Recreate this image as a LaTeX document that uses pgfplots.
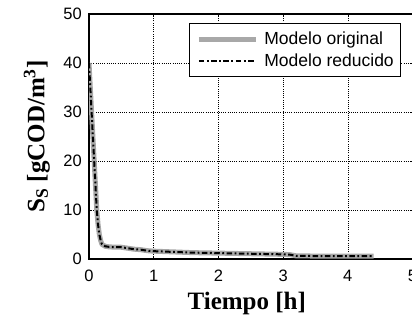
\documentclass[border=0pt]{standalone}
\usepackage{fontspec}
\setmainfont{Liberation Sans}
\newfontfamily\serifb{Liberation Serif}
\usepackage{pgfplots}
\pgfplotsset{compat=1.18}
\definecolor{origgray}{RGB}{168,168,168}
\begin{document}
\begin{tikzpicture}
\begin{axis}[
  scale only axis, width=323.5bp, height=245bp,
  xmin=0, xmax=5, ymin=0, ymax=50,
  xtick={0,1,2,3,4,5}, ytick={0,10,20,30,40,50},
  grid=major,
  major grid style={black, line width=0.6bp, dash pattern=on 1bp off 1.2bp},
  axis line style={black, line width=1.4bp},
  tick align=inside, major tick length=3bp, tick style={black, line width=0.6bp},
  /pgf/number format/assume math mode=true,
  tick label style={font=\fontsize{16.5bp}{19bp}\selectfont},
  xticklabel style={anchor=north, inner sep=0pt, yshift=-11bp},
  yticklabel style={anchor=east, inner sep=0pt, xshift=-7bp},
  xlabel={\serifb\bfseries Tiempo [h]},
  xlabel style={at={(rel axis cs:0.4876,-0.1347)}, anchor=north, inner sep=0pt, font=\fontsize{25bp}{28bp}\selectfont},
  ylabel={\serifb\bfseries S\textsubscript{S} [gCOD/m\textsuperscript{3}]},
  ylabel style={at={(rel axis cs:-0.1206,0.5)}, anchor=south, inner sep=0pt, font=\fontsize{25bp}{28bp}\selectfont},
  legend style={at={(rel axis cs:0.309,0.963)}, anchor=north west, draw=black, line width=0.8bp, fill=white,
    inner xsep=7bp, inner ysep=8.5bp, row sep=8bp, column sep=6bp,
    font=\fontsize{17.5bp}{20bp}\selectfont, nodes={inner sep=0pt}},
  legend cell align=left,
  legend image code/.code={\draw[#1] (0bp,0bp) -- (57bp,0bp);},
]
\addplot[origgray, line width=5bp, line join=round] coordinates {
(0,40) (0.02,35) (0.04,30) (0.06,25) (0.08,20) (0.1,15) (0.12,10) (0.14,7) (0.16,5) (0.18,3.8) (0.2,3.0)
(0.25,2.6) (0.3,2.5) (0.4,2.4) (0.5,2.4) (0.6,2.2) (0.7,2.0) (0.8,1.9) (0.9,1.7) (1.0,1.6)
(1.2,1.5) (1.4,1.4) (1.6,1.3) (1.8,1.25) (2.0,1.2) (2.2,1.15) (2.4,1.1) (2.6,1.05) (2.8,1.0) (3.0,0.95)
(3.1,0.9) (3.2,0.65) (3.5,0.6) (3.8,0.6) (4.1,0.6) (4.4,0.6)
};
\addlegendentry{Modelo original}
\addplot[black, line width=2bp, dash pattern=on 5.5bp off 2.5bp on 1.8bp off 2.5bp] coordinates {
(0,40) (0.02,35) (0.04,30) (0.06,25) (0.08,20) (0.1,15) (0.12,10) (0.14,7) (0.16,5) (0.18,3.8) (0.2,3.0)
(0.25,2.6) (0.3,2.5) (0.4,2.4) (0.5,2.4) (0.6,2.2) (0.7,2.0) (0.8,1.9) (0.9,1.7) (1.0,1.6)
(1.2,1.5) (1.4,1.4) (1.6,1.3) (1.8,1.25) (2.0,1.2) (2.2,1.15) (2.4,1.1) (2.6,1.05) (2.8,1.0) (3.0,0.95)
(3.1,0.9) (3.2,0.65) (3.5,0.6) (3.8,0.6) (4.1,0.6) (4.4,0.6)
};
\addlegendentry{Modelo reducido}
\coordinate (sw) at (rel axis cs:0,0);
\coordinate (ne) at (rel axis cs:1,1);
\end{axis}
\pgfresetboundingbox
\path[use as bounding box] ([xshift=-89bp,yshift=-60bp]sw) rectangle ([xshift=-0.5bp,yshift=14bp]ne);
\end{tikzpicture}
\end{document}
